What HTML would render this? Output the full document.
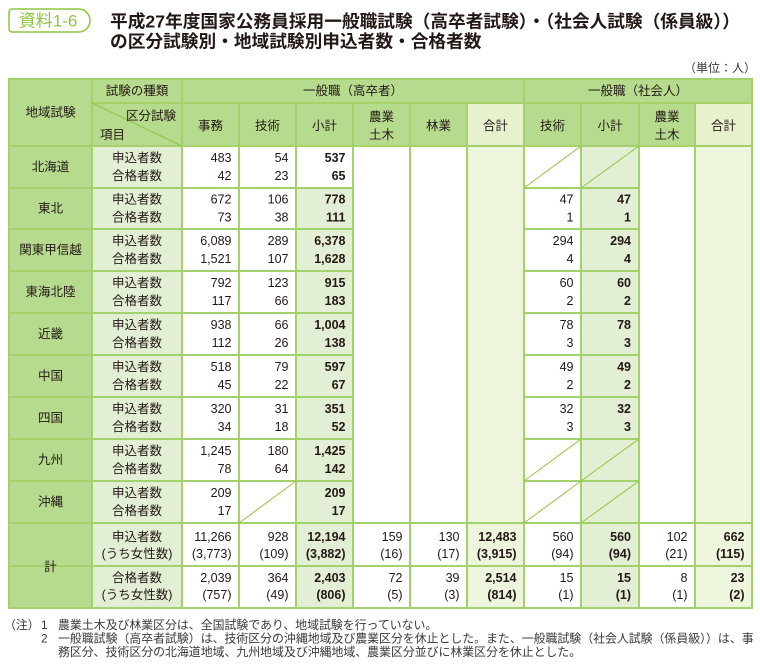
<!DOCTYPE html>
<html><head><meta charset="utf-8"><style>
html,body{margin:0;padding:0;background:#fff;}
svg{display:block;}
.t{font-family:"Liberation Sans","Noto Sans CJK JP",sans-serif;font-size:12.5px;fill:#231815;dominant-baseline:central;}
.n{text-anchor:end;}
.c{text-anchor:middle;}
.b{font-weight:bold;}
.note{font-family:"Liberation Sans","Noto Sans CJK JP",sans-serif;font-size:11.9px;fill:#3a3a3a;dominant-baseline:central;}
</style></head><body>
<svg width="760" height="665" viewBox="0 0 760 665" xmlns="http://www.w3.org/2000/svg">
<!-- badge -->
<path d="M12,9 H78.5 A11.5,11.5 0 0 1 78.5,32 H12 A3,3 0 0 1 9,29 V12 A3,3 0 0 1 12,9 Z" fill="#fff" stroke="#8dc63f" stroke-width="1.5"/>
<text x="48" y="21" class="c" style="font-family:'Liberation Sans','Noto Sans CJK JP',sans-serif;font-size:17px;fill:#8dc63f;dominant-baseline:central;">資料1-6</text>
<!-- title -->
<text x="110" y="21.5" style="font-family:'Liberation Sans','Noto Sans CJK JP',sans-serif;font-size:17.7px;font-weight:bold;fill:#231815;dominant-baseline:central;">平成27年度国家公務員採用一般職試験（高卒者試験）・（社会人試験（係員級））</text>
<text x="110" y="41.5" style="font-family:'Liberation Sans','Noto Sans CJK JP',sans-serif;font-size:17.7px;font-weight:bold;fill:#231815;dominant-baseline:central;">の区分試験別・地域試験別申込者数・合格者数</text>
<text x="756" y="68" class="n" style="font-family:'Liberation Sans','Noto Sans CJK JP',sans-serif;font-size:12px;fill:#3a3a3a;dominant-baseline:central;">（単位：人）</text>

<!-- fills -->
<rect x="9" y="79" width="743" height="67" fill="#b7db8e"/>
<rect x="467" y="103" width="57" height="43" fill="#e8f1cd"/>
<rect x="695" y="103" width="57" height="43" fill="#e8f1cd"/>
<rect x="9" y="146" width="83" height="462" fill="#b7db8e"/>
<rect x="92" y="146" width="90" height="462" fill="#e3efd4"/>
<rect x="296" y="188" width="57" height="420" fill="#e3efd4"/>
<rect x="467" y="146" width="57" height="462" fill="#eef5dd"/>
<rect x="581" y="146" width="58" height="462" fill="#e3efd4"/>
<rect x="695" y="146" width="57" height="462" fill="#eef5dd"/>

<!-- lines -->
<g stroke="#a5d16c" stroke-width="2" fill="none">
<rect x="9" y="79" width="743" height="529"/>
<line x1="92" y1="103" x2="752" y2="103"/>
<line x1="9" y1="146" x2="752" y2="146"/>
<line x1="9" y1="523" x2="752" y2="523"/>
<line x1="9" y1="566" x2="752" y2="566"/>
<line x1="9" y1="188" x2="353" y2="188"/><line x1="524" y1="188" x2="639" y2="188"/>
<line x1="9" y1="229" x2="353" y2="229"/><line x1="524" y1="229" x2="639" y2="229"/>
<line x1="9" y1="271" x2="353" y2="271"/><line x1="524" y1="271" x2="639" y2="271"/>
<line x1="9" y1="313" x2="353" y2="313"/><line x1="524" y1="313" x2="639" y2="313"/>
<line x1="9" y1="355" x2="353" y2="355"/><line x1="524" y1="355" x2="639" y2="355"/>
<line x1="9" y1="397" x2="353" y2="397"/><line x1="524" y1="397" x2="639" y2="397"/>
<line x1="9" y1="439" x2="353" y2="439"/><line x1="524" y1="439" x2="639" y2="439"/>
<line x1="9" y1="481" x2="353" y2="481"/><line x1="524" y1="481" x2="639" y2="481"/>
<line x1="92" y1="79" x2="92" y2="608"/>
<line x1="182" y1="79" x2="182" y2="608"/>
<line x1="524" y1="79" x2="524" y2="608"/>
<line x1="239" y1="103" x2="239" y2="608"/>
<line x1="296" y1="103" x2="296" y2="608"/>
<line x1="353" y1="103" x2="353" y2="608"/>
<line x1="410" y1="103" x2="410" y2="608"/>
<line x1="467" y1="103" x2="467" y2="608"/>
<line x1="581" y1="103" x2="581" y2="608"/>
<line x1="639" y1="103" x2="639" y2="608"/>
<line x1="695" y1="103" x2="695" y2="608"/>
</g>
<g stroke="#8dc63f" stroke-width="1" fill="none">
<line x1="92" y1="103" x2="182" y2="146"/>
<line x1="239" y1="523" x2="296" y2="481"/>
<line x1="524" y1="188" x2="581" y2="146"/><line x1="581" y1="188" x2="639" y2="146"/>
<line x1="524" y1="481" x2="581" y2="439"/><line x1="581" y1="481" x2="639" y2="439"/>
<line x1="524" y1="523" x2="581" y2="481"/><line x1="581" y1="523" x2="639" y2="481"/>
</g>

<!-- header text -->
<text class="t c" x="50.5" y="112.5">地域試験</text>
<text class="t c" x="137" y="91">試験の種類</text>
<text class="t c" x="353" y="91">一般職（高卒者）</text>
<text class="t c" x="638" y="91">一般職（社会人）</text>
<text class="t n" x="176" y="116">区分試験</text>
<text class="t" x="100" y="135">項目</text>
<text class="t c" x="210.5" y="126">事務</text>
<text class="t c" x="267.5" y="126">技術</text>
<text class="t c" x="324.5" y="126">小計</text>
<text class="t c" x="381.5" y="117">農業</text>
<text class="t c" x="381.5" y="135">土木</text>
<text class="t c" x="438.5" y="126">林業</text>
<text class="t c" x="495.5" y="126">合計</text>
<text class="t c" x="552.5" y="126">技術</text>
<text class="t c" x="610" y="126">小計</text>
<text class="t c" x="667" y="117">農業</text>
<text class="t c" x="667" y="135">土木</text>
<text class="t c" x="723.5" y="126">合計</text>

<!-- region names -->
<text class="t c" x="50.5" y="167">北海道</text>
<text class="t c" x="50.5" y="208.5">東北</text>
<text class="t c" x="50.5" y="250">関東甲信越</text>
<text class="t c" x="50.5" y="292">東海北陸</text>
<text class="t c" x="50.5" y="334">近畿</text>
<text class="t c" x="50.5" y="376">中国</text>
<text class="t c" x="50.5" y="418">四国</text>
<text class="t c" x="50.5" y="460">九州</text>
<text class="t c" x="50.5" y="502">沖縄</text>
<text class="t c" x="50.5" y="567">計</text>

<!-- item labels -->
<g class="t c">
<text class="t c" x="137" y="158">申込者数</text><text class="t c" x="137" y="176">合格者数</text>
<text class="t c" x="137" y="199.5">申込者数</text><text class="t c" x="137" y="217.5">合格者数</text>
<text class="t c" x="137" y="241">申込者数</text><text class="t c" x="137" y="259">合格者数</text>
<text class="t c" x="137" y="283">申込者数</text><text class="t c" x="137" y="301">合格者数</text>
<text class="t c" x="137" y="325">申込者数</text><text class="t c" x="137" y="343">合格者数</text>
<text class="t c" x="137" y="367">申込者数</text><text class="t c" x="137" y="385">合格者数</text>
<text class="t c" x="137" y="409">申込者数</text><text class="t c" x="137" y="427">合格者数</text>
<text class="t c" x="137" y="451">申込者数</text><text class="t c" x="137" y="469">合格者数</text>
<text class="t c" x="137" y="493">申込者数</text><text class="t c" x="137" y="511">合格者数</text>
<text class="t c" x="137" y="537">申込者数</text><text class="t c" x="137" y="554">(うち女性数)</text>
<text class="t c" x="137" y="578">合格者数</text><text class="t c" x="137" y="595">(うち女性数)</text>
</g>

<!-- numbers: 事務 -->
<text class="t n" x="231.5" y="158">483</text><text class="t n" x="231.5" y="176">42</text>
<text class="t n" x="231.5" y="199.5">672</text><text class="t n" x="231.5" y="217.5">73</text>
<text class="t n" x="231.5" y="241">6,089</text><text class="t n" x="231.5" y="259">1,521</text>
<text class="t n" x="231.5" y="283">792</text><text class="t n" x="231.5" y="301">117</text>
<text class="t n" x="231.5" y="325">938</text><text class="t n" x="231.5" y="343">112</text>
<text class="t n" x="231.5" y="367">518</text><text class="t n" x="231.5" y="385">45</text>
<text class="t n" x="231.5" y="409">320</text><text class="t n" x="231.5" y="427">34</text>
<text class="t n" x="231.5" y="451">1,245</text><text class="t n" x="231.5" y="469">78</text>
<text class="t n" x="231.5" y="493">209</text><text class="t n" x="231.5" y="511">17</text>
<text class="t n" x="231.5" y="537">11,266</text><text class="t n" x="231.5" y="554">(3,773)</text>
<text class="t n" x="231.5" y="578">2,039</text><text class="t n" x="231.5" y="595">(757)</text>
<!-- 技術 -->
<text class="t n" x="288.5" y="158">54</text><text class="t n" x="288.5" y="176">23</text>
<text class="t n" x="288.5" y="199.5">106</text><text class="t n" x="288.5" y="217.5">38</text>
<text class="t n" x="288.5" y="241">289</text><text class="t n" x="288.5" y="259">107</text>
<text class="t n" x="288.5" y="283">123</text><text class="t n" x="288.5" y="301">66</text>
<text class="t n" x="288.5" y="325">66</text><text class="t n" x="288.5" y="343">26</text>
<text class="t n" x="288.5" y="367">79</text><text class="t n" x="288.5" y="385">22</text>
<text class="t n" x="288.5" y="409">31</text><text class="t n" x="288.5" y="427">18</text>
<text class="t n" x="288.5" y="451">180</text><text class="t n" x="288.5" y="469">64</text>
<text class="t n" x="288.5" y="537">928</text><text class="t n" x="288.5" y="554">(109)</text>
<text class="t n" x="288.5" y="578">364</text><text class="t n" x="288.5" y="595">(49)</text>
<!-- 小計 -->
<text class="t n b" x="345.5" y="158">537</text><text class="t n b" x="345.5" y="176">65</text>
<text class="t n b" x="345.5" y="199.5">778</text><text class="t n b" x="345.5" y="217.5">111</text>
<text class="t n b" x="345.5" y="241">6,378</text><text class="t n b" x="345.5" y="259">1,628</text>
<text class="t n b" x="345.5" y="283">915</text><text class="t n b" x="345.5" y="301">183</text>
<text class="t n b" x="345.5" y="325">1,004</text><text class="t n b" x="345.5" y="343">138</text>
<text class="t n b" x="345.5" y="367">597</text><text class="t n b" x="345.5" y="385">67</text>
<text class="t n b" x="345.5" y="409">351</text><text class="t n b" x="345.5" y="427">52</text>
<text class="t n b" x="345.5" y="451">1,425</text><text class="t n b" x="345.5" y="469">142</text>
<text class="t n b" x="345.5" y="493">209</text><text class="t n b" x="345.5" y="511">17</text>
<text class="t n b" x="345.5" y="537">12,194</text><text class="t n b" x="345.5" y="554">(3,882)</text>
<text class="t n b" x="345.5" y="578">2,403</text><text class="t n b" x="345.5" y="595">(806)</text>
<!-- 農業土木 / 林業 / 合計 -->
<text class="t n" x="402.5" y="537">159</text><text class="t n" x="402.5" y="554">(16)</text>
<text class="t n" x="402.5" y="578">72</text><text class="t n" x="402.5" y="595">(5)</text>
<text class="t n" x="459.5" y="537">130</text><text class="t n" x="459.5" y="554">(17)</text>
<text class="t n" x="459.5" y="578">39</text><text class="t n" x="459.5" y="595">(3)</text>
<text class="t n b" x="516.5" y="537">12,483</text><text class="t n b" x="516.5" y="554">(3,915)</text>
<text class="t n b" x="516.5" y="578">2,514</text><text class="t n b" x="516.5" y="595">(814)</text>
<!-- 社会人 技術 -->
<text class="t n" x="573.5" y="199.5">47</text><text class="t n" x="573.5" y="217.5">1</text>
<text class="t n" x="573.5" y="241">294</text><text class="t n" x="573.5" y="259">4</text>
<text class="t n" x="573.5" y="283">60</text><text class="t n" x="573.5" y="301">2</text>
<text class="t n" x="573.5" y="325">78</text><text class="t n" x="573.5" y="343">3</text>
<text class="t n" x="573.5" y="367">49</text><text class="t n" x="573.5" y="385">2</text>
<text class="t n" x="573.5" y="409">32</text><text class="t n" x="573.5" y="427">3</text>
<text class="t n" x="573.5" y="537">560</text><text class="t n" x="573.5" y="554">(94)</text>
<text class="t n" x="573.5" y="578">15</text><text class="t n" x="573.5" y="595">(1)</text>
<!-- 社会人 小計 -->
<text class="t n b" x="631" y="199.5">47</text><text class="t n b" x="631" y="217.5">1</text>
<text class="t n b" x="631" y="241">294</text><text class="t n b" x="631" y="259">4</text>
<text class="t n b" x="631" y="283">60</text><text class="t n b" x="631" y="301">2</text>
<text class="t n b" x="631" y="325">78</text><text class="t n b" x="631" y="343">3</text>
<text class="t n b" x="631" y="367">49</text><text class="t n b" x="631" y="385">2</text>
<text class="t n b" x="631" y="409">32</text><text class="t n b" x="631" y="427">3</text>
<text class="t n b" x="631" y="537">560</text><text class="t n b" x="631" y="554">(94)</text>
<text class="t n b" x="631" y="578">15</text><text class="t n b" x="631" y="595">(1)</text>
<!-- 社会人 農業土木 / 合計 -->
<text class="t n" x="687.5" y="537">102</text><text class="t n" x="687.5" y="554">(21)</text>
<text class="t n" x="687.5" y="578">8</text><text class="t n" x="687.5" y="595">(1)</text>
<text class="t n b" x="744.5" y="537">662</text><text class="t n b" x="744.5" y="554">(115)</text>
<text class="t n b" x="744.5" y="578">23</text><text class="t n b" x="744.5" y="595">(2)</text>

<!-- notes -->
<text class="note" x="4" y="625">（注）</text>
<text class="note" x="41" y="625">1</text>
<text class="note" x="58" y="625">農業土木及び林業区分は、全国試験であり、地域試験を行っていない。</text>
<text class="note" x="41" y="638.5">2</text>
<text class="note" x="58" y="638.5">一般職試験（高卒者試験）は、技術区分の沖縄地域及び農業区分を休止とした。また、一般職試験（社会人試験（係員級））は、事</text>
<text class="note" x="58" y="652">務区分、技術区分の北海道地域、九州地域及び沖縄地域、農業区分並びに林業区分を休止とした。</text>
</svg>
</body></html>
